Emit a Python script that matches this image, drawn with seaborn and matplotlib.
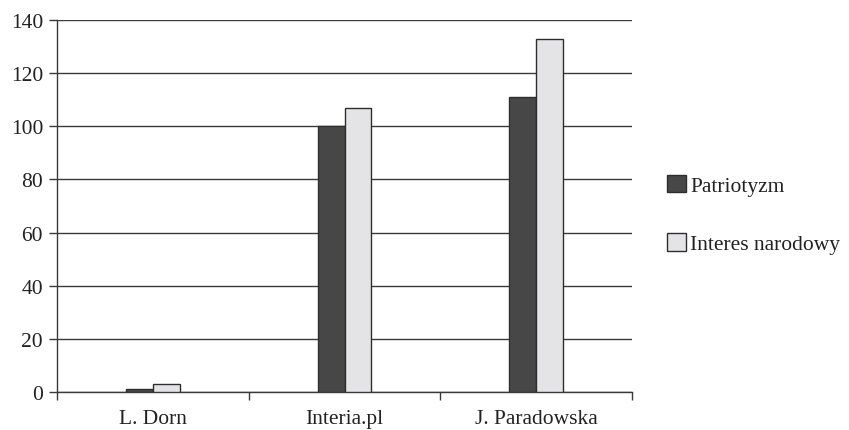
import matplotlib
matplotlib.use("Agg")
import matplotlib.pyplot as plt
import seaborn as sns
import pandas as pd
from matplotlib.patches import Patch

sources = ["L. Dorn", "Interia.pl", "J. Paradowska"]
series = ["Patriotyzm", "Interes narodowy"]
patriotyzm = [1, 100, 111]
interes_narodowy = [3, 107, 133]
y_ticks = [0, 20, 40, 60, 80, 100, 120, 140]

df = pd.DataFrame({
    "source": sources * 2,
    "series": [series[0]] * 3 + [series[1]] * 3,
    "value": patriotyzm + interes_narodowy,
})

sns.set_theme(style="white")
plt.rcParams["font.family"] = ["Liberation Serif", "DejaVu Serif"]

colors = {"Patriotyzm": "#474747", "Interes narodowy": "#e4e4e6"}

fig = plt.figure(figsize=(8.49, 4.31), dpi=100)
ax = fig.add_axes([57 / 849, 38 / 431, 575 / 849, 372 / 431])

sns.barplot(data=df, x="source", y="value", hue="series", order=sources,
            hue_order=series, palette=colors, width=0.28, gap=0,
            edgecolor="#2e2e2e", linewidth=1.0, ax=ax, legend=False,
            zorder=3)

ax.set_ylim(0, 140)
ax.set_xlim(-0.5, 2.5)
ax.set_yticks(y_ticks)
ax.yaxis.grid(True, color="#3a3a3a", linewidth=1.0, zorder=0)
ax.set_axisbelow(True)
ax.set_xlabel("")
ax.set_ylabel("")

for s in ["top", "right"]:
    ax.spines[s].set_visible(False)
for s in ["left", "bottom"]:
    ax.spines[s].set_color("#3a3a3a")
    ax.spines[s].set_linewidth(1.0)

ax.tick_params(axis="y", which="major", direction="out", length=6,
               width=1, color="#3a3a3a", labelsize=15.5, labelcolor="#222222", pad=4,
               left=True)
ax.set_xticks([0, 1, 2])
ax.set_xticklabels(sources)
ax.tick_params(axis="x", which="major", length=0, labelsize=15.5,
               labelcolor="#222222", pad=12)
ax.set_xticks([-0.5, 0.5, 1.5, 2.5], minor=True)
ax.tick_params(axis="x", which="minor", direction="out", length=6,
               width=1, color="#3a3a3a", bottom=True)

handles = [Patch(facecolor=colors[s], edgecolor="#2e2e2e", linewidth=1.0, label=s)
           for s in series]
fig.legend(handles=handles, loc="center left", bbox_to_anchor=(648 / 849, 0.5),
           frameon=False, fontsize=15.5, handlelength=0.85, handleheight=0.85,
           handletextpad=0.2, labelspacing=1.75, labelcolor="#222222")

fig.savefig("out.png", dpi=100)
